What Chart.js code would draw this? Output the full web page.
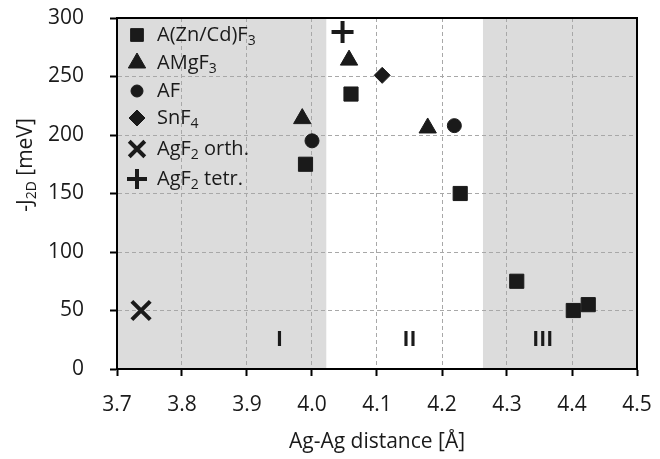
<!DOCTYPE html>
<html>
<head>
<meta charset="utf-8">
<script src="https://cdn.jsdelivr.net/npm/chart.js@4.4.0/dist/chart.umd.min.js"></script>
<style>
  html, body { margin: 0; padding: 0; background: #fff; }
  #wrap { width: 660px; height: 459px; }
</style>
</head>
<body>
<div id="wrap"><canvas id="chart" width="660" height="459"></canvas></div>
<script>
// series values
const sqX = [3.99, 4.06, 4.228, 4.315, 4.402, 4.425];
const sqY = [175, 235, 150, 75, 50, 55];
const triX = [3.985, 4.057, 4.178];
const triY = [214, 264, 206];
const circX = [4.0, 4.219];
const circY = [195, 208];
const diaX = [4.108];
const diaY = [251];
const orthX = [3.737];
const orthY = [50];
const tetrX = [4.047];
const tetrY = [288];

// legend names, "_" marks a subscript
const seriesNames = ['A(Zn/Cd)F_3', 'AMgF_3', 'AF', 'SnF_4', 'AgF_2 orth.', 'AgF_2 tetr.'];

// regions
const regionEdges = [3.7, 4.022, 4.263, 4.5];
const regionShaded = [true, false, true];
const regionLabels = ['I', 'II', 'III'];
const regionLabelX = [3.95, 4.15, 4.355];
const regionLabelY = 25;

const xTicks = [3.7, 3.8, 3.9, 4.0, 4.1, 4.2, 4.3, 4.4, 4.5];
const yTicks = [0, 50, 100, 150, 200, 250, 300];

const FONT = '"Open Sans", sans-serif';
const INK = '#1a1a1a';

function pts(xs, ys) {
    return xs.map((x, i) => ({ x: x, y: ys[i] }));
}

// text with "_" subscripts
function drawRich(ctx, text, x, y, size) {
    const parts = text.split(/(_[^ ]+)/).filter(s => s.length);
    let cx = x;
    parts.forEach(p => {
        if (p[0] === '_') {
            ctx.font = Math.round(size * 0.68) + 'px ' + FONT;
            ctx.fillText(p.slice(1), cx, y + size * 0.3);
            cx += ctx.measureText(p.slice(1)).width;
        } else {
            ctx.font = size + 'px ' + FONT;
            ctx.fillText(p, cx, y);
            cx += ctx.measureText(p).width;
        }
    });
    return cx - x;
}

function richWidth(ctx, text, size) {
    const parts = text.split(/(_[^ ]+)/).filter(s => s.length);
    let w = 0;
    parts.forEach(p => {
        if (p[0] === '_') {
            ctx.font = Math.round(size * 0.68) + 'px ' + FONT;
            w += ctx.measureText(p.slice(1)).width;
        } else {
            ctx.font = size + 'px ' + FONT;
            w += ctx.measureText(p).width;
        }
    });
    return w;
}

const regionPlugin = {
    id: 'regions',
    beforeDraw(chart) {
        const { ctx, chartArea, scales } = chart;
        ctx.save();
        ctx.fillStyle = '#dcdcdc';
        for (let i = 0; i < regionShaded.length; i++) {
            if (!regionShaded[i]) continue;
            const x1 = scales.x.getPixelForValue(regionEdges[i]);
            const x2 = scales.x.getPixelForValue(regionEdges[i + 1]);
            ctx.fillRect(x1, chartArea.top, x2 - x1, chartArea.bottom - chartArea.top);
        }
        ctx.restore();
    },
    afterDatasetsDraw(chart) {
        const { ctx, chartArea, scales } = chart;
        ctx.save();
        // region labels
        ctx.fillStyle = INK;
        ctx.font = 'bold 21px ' + FONT;
        ctx.textAlign = 'center';
        ctx.textBaseline = 'middle';
        regionLabels.forEach((lab, i) => {
            ctx.fillText(lab, scales.x.getPixelForValue(regionLabelX[i]), scales.y.getPixelForValue(regionLabelY));
        });
        // frame
        ctx.strokeStyle = '#000';
        ctx.lineWidth = 2;
        ctx.strokeRect(chartArea.left, chartArea.top, chartArea.right - chartArea.left, chartArea.bottom - chartArea.top);

        // legend
        ctx.textAlign = 'left';
        ctx.textBaseline = 'middle';
        const rowY = [35, 63, 91, 118, 149, 179];
        chart.data.datasets.forEach((ds, i) => {
            const opts = {
                pointStyle: ds.pointStyle,
                radius: ds.legendRadius,
                borderWidth: ds.borderWidth
            };
            ctx.fillStyle = INK;
            ctx.strokeStyle = INK;
            ctx.lineWidth = ds.borderWidth;
            Chart.helpers.drawPoint(ctx, opts, 137, rowY[i]);
            ctx.fillStyle = INK;
            drawRich(ctx, seriesNames[i], 157, rowY[i], 20);
        });

        // y axis title
        ctx.translate(30, 165);
        ctx.rotate(-Math.PI / 2);
        const t = '-J_2D [meV]';
        const w = richWidth(ctx, t, 21);
        ctx.fillStyle = INK;
        drawRich(ctx, t, -w / 2, -4, 21);
        ctx.restore();
    }
};

function mk(label, data, style, radius, legendRadius, bw) {
    return {
        label: label,
        data: data,
        pointStyle: style,
        pointRadius: radius,
        pointHoverRadius: radius,
        legendRadius: legendRadius,
        backgroundColor: INK,
        borderColor: INK,
        borderWidth: bw,
        showLine: false
    };
}

function noPad(scale) {
    scale.paddingTop = 0;
    scale.paddingBottom = 0;
    scale.paddingLeft = 0;
    scale.paddingRight = 0;
}

document.addEventListener('DOMContentLoaded', function() {
    const ctx = document.getElementById('chart').getContext('2d');
    new Chart(ctx, {
        type: 'scatter',
        data: {
            datasets: [
                mk(seriesNames[0], pts(sqX, sqY), 'rect', 10, 9, 1),
                mk(seriesNames[1], pts(triX, triY), 'triangle', 10, 10, 1),
                mk(seriesNames[2], pts(circX, circY), 'circle', 7, 6, 1),
                mk(seriesNames[3], pts(diaX, diaY), 'rectRot', 8, 8, 1),
                mk(seriesNames[4], pts(orthX, orthY), 'crossRot', 13, 11, 4),
                mk(seriesNames[5], pts(tetrX, tetrY), 'cross', 11, 10, 4)
            ]
        },
        options: {
            responsive: false,
            animation: false,
            layout: { padding: { top: 18, right: 23, left: 0, bottom: 0 } },
            plugins: {
                legend: { display: false },
                tooltip: { enabled: false }
            },
            scales: {
                x: {
                    type: 'linear',
                    min: 3.7,
                    max: 4.5,
                    afterBuildTicks: function(scale) {
                        scale.ticks = xTicks.map(v => ({ value: v }));
                    },
                    afterFit: function(scale) { scale.height = 90; noPad(scale); },
                    ticks: {
                        color: INK,
                        font: { family: FONT, size: 21 },
                        padding: 16,
                        maxRotation: 0,
                        callback: v => v.toFixed(1)
                    },
                    grid: {
                        color: '#a8a8a8',
                        lineWidth: 1,
                        tickColor: '#000',
                        tickWidth: 2,
                        tickLength: 7,
                        tickBorderDash: []
                    },
                    border: { display: true, color: '#000', width: 2, dash: [4, 3] },
                    title: {
                        display: true,
                        text: 'Ag-Ag distance [Å]',
                        color: INK,
                        font: { family: FONT, size: 21 },
                        padding: { top: 2 }
                    }
                },
                y: {
                    min: 0,
                    max: 300,
                    afterBuildTicks: function(scale) {
                        scale.ticks = yTicks.map(v => ({ value: v }));
                    },
                    afterFit: function(scale) { scale.width = 117; noPad(scale); },
                    ticks: {
                        color: INK,
                        font: { family: FONT, size: 21 },
                        padding: 26
                    },
                    grid: {
                        color: '#a8a8a8',
                        lineWidth: 1,
                        tickColor: '#000',
                        tickWidth: 2,
                        tickLength: 7,
                        tickBorderDash: []
                    },
                    border: { display: true, color: '#000', width: 2, dash: [4, 3] }
                }
            }
        },
        plugins: [regionPlugin]
    });
});
</script>
</body>
</html>
